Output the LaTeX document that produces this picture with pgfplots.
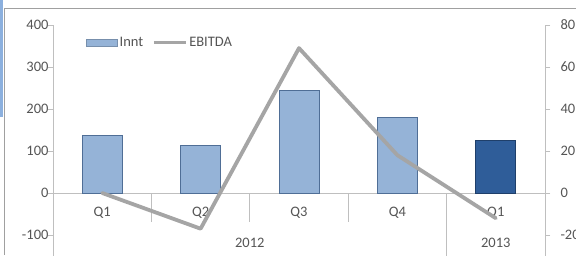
\documentclass[border=0pt]{standalone}
\usepackage{pgfplots}
\pgfplotsset{compat=1.18}
\usepackage{fontspec}
\setmainfont{Carlito}
\definecolor{barlight}{HTML}{95B3D7}
\definecolor{barlightedge}{HTML}{4F6E96}
\definecolor{bardark}{HTML}{2F5D99}
\definecolor{bardarkedge}{HTML}{1F3F6A}
\definecolor{linegray}{HTML}{A5A5A5}
\definecolor{axisgray}{HTML}{BFBFBF}
\definecolor{txt}{HTML}{555555}
\definecolor{frameblue}{HTML}{8CB0DE}
\definecolor{framegray}{HTML}{A0A0A0}
\newcommand{\lbl}{\fontsize{14.5}{15}\selectfont}
\begin{document}
\begin{tikzpicture}[x=1pt,y=1pt]
\useasboundingbox (0,0) rectangle (576,255);
\clip (0,0) rectangle (576,255);
\fill[white] (0,0) rectangle (576,255);
\fill[frameblue] (0,138) rectangle (3,255);
\draw[framegray, line width=1pt] (4.5,0) -- (4.5,246) -- (576,246);
\pgfplotsset{common/.style={
  scale only axis, width=492pt, height=252pt,
  at={(53pt,-22pt)}, anchor=south west,
  xmin=-0.5, xmax=4.5, axis x line=none,
  y axis line style={axisgray, line width=0.8pt},
  ytick style={axisgray, line width=0.8pt},
  tick align=outside, major tick length=5pt,
  yticklabel style={txt, font=\lbl},
  /pgf/number format/assume math mode=true,
}}
\begin{axis}[common, ymin=-200, ymax=400, axis y line*=left,
  ytick={-100,0,...,400},
  yticklabel style={xshift=4pt},
  legend style={at={(0.067,0.929)}, anchor=west, draw=none, fill=none,
    legend columns=2, font=\lbl, text=txt, inner sep=0pt,
    /tikz/every even column/.append style={column sep=7pt}},
  legend cell align=left]
\draw[axisgray, line width=0.8pt] (axis cs:-0.5,0) -- (axis cs:4.5,0);
\draw[axisgray, line width=0.8pt] (axis cs:0.5,0) -- ([yshift=-29pt]axis cs:0.5,0);
\draw[axisgray, line width=0.8pt] (axis cs:1.5,0) -- ([yshift=-29pt]axis cs:1.5,0);
\draw[axisgray, line width=0.8pt] (axis cs:2.5,0) -- ([yshift=-29pt]axis cs:2.5,0);
\draw[axisgray, line width=0.8pt] (axis cs:3.5,0) -- (axis cs:3.5,-200);
\addplot[ybar, bar width=40pt, bar shift=0pt, fill=barlight, draw=barlightedge, line width=0.8pt,
  legend image code/.code={\draw[fill=barlight, draw=barlight!80!black, line width=0.5pt] (0pt,-3.5pt) rectangle (31pt,3.5pt);}]
  coordinates {(0,136) (1,114) (2,245) (3,179)};
\addlegendentry{Innt}
\addplot[ybar, bar width=40pt, bar shift=0pt, fill=bardark, draw=bardarkedge, line width=0.8pt, forget plot]
  coordinates {(4,126)};
\addlegendimage{linegray, line width=3pt, legend image code/.code={\draw[linegray, line width=3pt] (0pt,0pt) -- (32pt,0pt);}}
\addlegendentry{EBITDA}
\node[txt, font=\lbl] at (axis cs:0,0) [yshift=-20pt] {Q1};
\node[txt, font=\lbl] at (axis cs:1,0) [yshift=-20pt] {Q2};
\node[txt, font=\lbl] at (axis cs:2,0) [yshift=-20pt] {Q3};
\node[txt, font=\lbl] at (axis cs:3,0) [yshift=-20pt] {Q4};
\node[txt, font=\lbl] at (axis cs:4,0) [yshift=-20pt] {Q1};
\node[txt, font=\lbl] at (axis cs:1.5,0) [yshift=-50pt] {2012};
\node[txt, font=\lbl] at (axis cs:4,0) [yshift=-50pt] {2013};
\end{axis}
\begin{axis}[common, ymin=-40, ymax=80, axis y line*=right,
  ytick={-20,0,...,80},
  yticklabel style={xshift=7pt}]
\addplot[linegray, line width=3.8pt, line join=round, line cap=round]
  coordinates {(0,0) (1,-17) (2,69) (3,18) (4,-12)};
\end{axis}
\end{tikzpicture}
\end{document}
